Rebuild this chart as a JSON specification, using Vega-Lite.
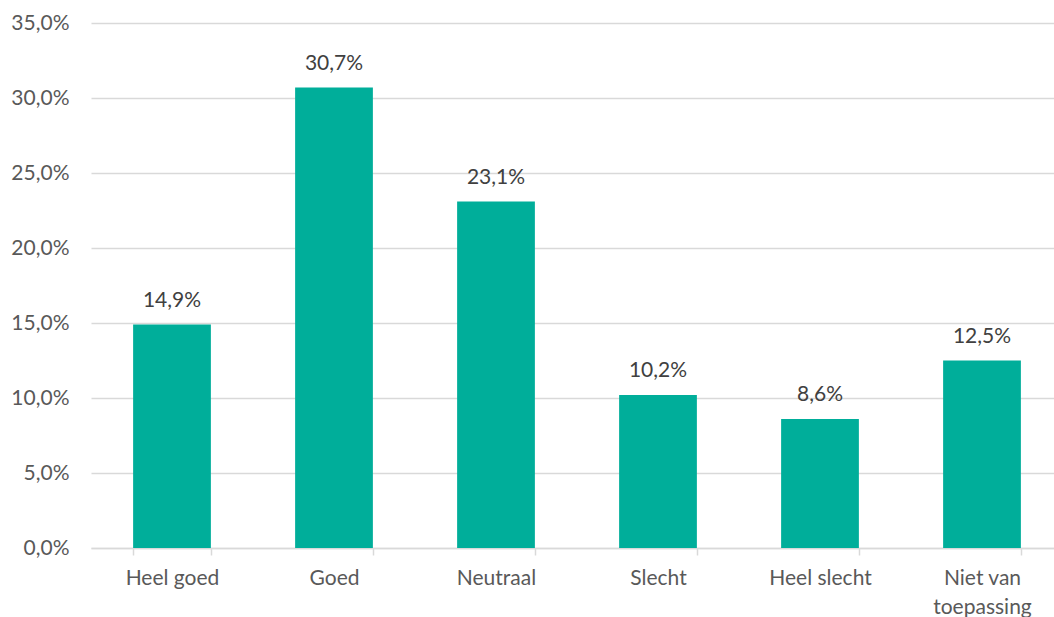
{
  "$schema": "https://vega.github.io/schema/vega-lite/v6.json",
  "width": 963,
  "height": 525,
  "autosize": "none",
  "padding": {"left": 91, "top": 23, "right": 0, "bottom": 69},
  "background": "white",
  "config": {
    "locale": {"number": {"decimal": ",", "thousands": ".", "grouping": [3], "currency": ["€", ""]}},
    "view": {"stroke": null},
    "font": "Lato"
  },
  "data": {
    "values": [
      {"categorie": "Heel goed", "aandeel": 0.149},
      {"categorie": "Goed", "aandeel": 0.307},
      {"categorie": "Neutraal", "aandeel": 0.231},
      {"categorie": "Slecht", "aandeel": 0.102},
      {"categorie": "Heel slecht", "aandeel": 0.086},
      {"categorie": "Niet van toepassing", "aandeel": 0.125}
    ]
  },
  "encoding": {
    "x": {
      "field": "categorie",
      "type": "nominal",
      "sort": null,
      "scale": {"range": [0, 972], "paddingInner": 0.52, "paddingOuter": 0.26},
      "axis": {
        "title": null,
        "labelAngle": 0,
        "labelFontSize": 21,
        "labelColor": "#595959",
        "labelPadding": 12,
        "labelLineHeight": 29,
        "labelExpr": "datum.value == 'Niet van toepassing' ? ['Niet van', 'toepassing'] : datum.value",
        "domainColor": "#D9D9D9",
        "domainWidth": 1.5,
        "tickColor": "#D9D9D9",
        "tickWidth": 1.5,
        "tickSize": 7,
        "tickBand": "extent",
        "grid": false
      }
    },
    "y": {
      "field": "aandeel",
      "type": "quantitative",
      "scale": {"domain": [0, 0.35], "nice": false},
      "axis": {
        "title": null,
        "format": ".1%",
        "values": [0, 0.05, 0.1, 0.15, 0.2, 0.25, 0.3, 0.35],
        "labelFontSize": 21,
        "labelColor": "#595959",
        "labelPadding": 22,
        "domain": false,
        "ticks": false,
        "gridColor": "#D9D9D9",
        "gridWidth": 1.5
      }
    }
  },
  "layer": [
    {"mark": {"type": "bar", "color": "#00AE9A"}},
    {
      "mark": {"type": "text", "baseline": "bottom", "dy": -14, "fontSize": 21, "color": "#404040"},
      "encoding": {"text": {"field": "aandeel", "type": "quantitative", "format": ".1%"}}
    }
  ]
}
